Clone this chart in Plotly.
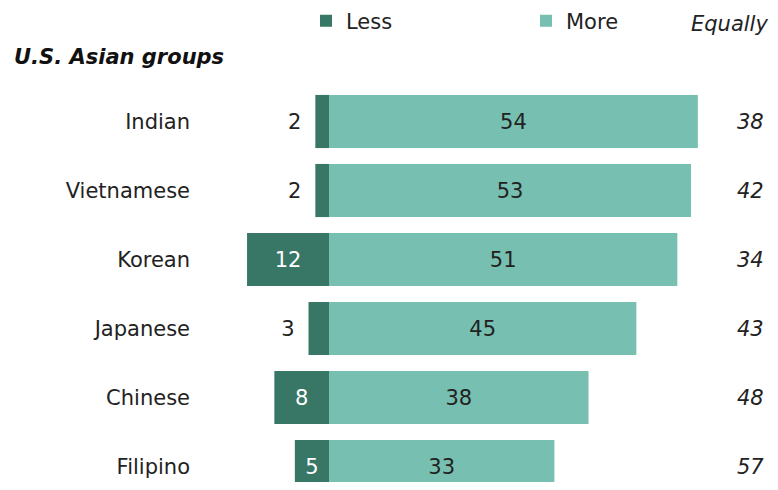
import plotly.graph_objects as go

groups = ["Indian", "Vietnamese", "Korean", "Japanese", "Chinese", "Filipino"]
less = [2, 2, 12, 3, 8, 5]
more = [54, 53, 51, 45, 38, 33]
equally = [38, 42, 34, 43, 48, 57]

dark = "#387766"
light = "#77bfb0"
font = "Verdana, DejaVu Sans, sans-serif"

# page body has an 8px margin; keep the figure inside the window so no scrollbars appear
W, H = 762, 474
left = 189
zero_px = 321
scale = 6.83
row_px = 69
first_px = 113.5

less_pos = ["inside" if v >= 5 else "outside" for v in less]
less_txt = [str(v) if v >= 5 else str(v) + "\u00a0\u2009" for v in less]

fig = go.Figure()
fig.add_trace(go.Bar(
    y=groups, x=[-v for v in less], orientation="h", name="Less",
    marker=dict(color=dark, line=dict(width=0)),
    text=less_txt, textposition=less_pos,
    insidetextanchor="middle", insidetextfont=dict(color="white", size=21),
    outsidetextfont=dict(color="#222222", size=21), cliponaxis=False,
    hoverinfo="skip",
))
fig.add_trace(go.Bar(
    y=groups, x=more, orientation="h", name="More",
    marker=dict(color=light, line=dict(width=0)),
    text=[str(v) for v in more], textposition="inside",
    insidetextanchor="middle", insidetextfont=dict(color="#222222", size=21),
    hoverinfo="skip",
))

for g, v in zip(groups, equally):
    fig.add_annotation(x=(742 - zero_px) / scale, y=g, xref="x", yref="y", text=f"<i>{v}</i>",
                       showarrow=False, font=dict(size=21, color="#222222"))

fig.add_annotation(x=1, y=1 - 16 / H, xref="paper", yref="paper", xanchor="right",
                   yanchor="middle", text="<i>Equally</i>", showarrow=False,
                   font=dict(size=21, color="#222222"))
fig.add_annotation(x=(4 - left) / (W - left), y=1 - 49 / H, xref="paper", yref="paper",
                   xanchor="left", yanchor="middle", text="<b><i>U.S. Asian groups</i></b>",
                   showarrow=False, font=dict(size=21, color="#111111"))

fig.update_layout(
    width=W, height=H,
    margin=dict(l=left, r=0, t=0, b=0, autoexpand=False),
    barmode="relative", bargap=0.23,
    plot_bgcolor="white", paper_bgcolor="white",
    font=dict(family=font, size=21, color="#222222"),
    showlegend=True,
    legend=dict(orientation="h", x=(298 - left) / (W - left), y=1 - 13 / H,
                xanchor="left", yanchor="middle", entrywidth=175,
                font=dict(size=21), bgcolor="rgba(0,0,0,0)", traceorder="normal"),
    xaxis=dict(range=[(left - zero_px) / scale, (W - zero_px) / scale], visible=False,
               fixedrange=True),
    yaxis=dict(range=[(H - first_px) / row_px, -first_px / row_px], showgrid=False,
               zeroline=False, showline=False, ticks="", ticklabelstandoff=6,
               tickfont=dict(size=21, color="#222222")),
)

fig.write_html("out.html")
